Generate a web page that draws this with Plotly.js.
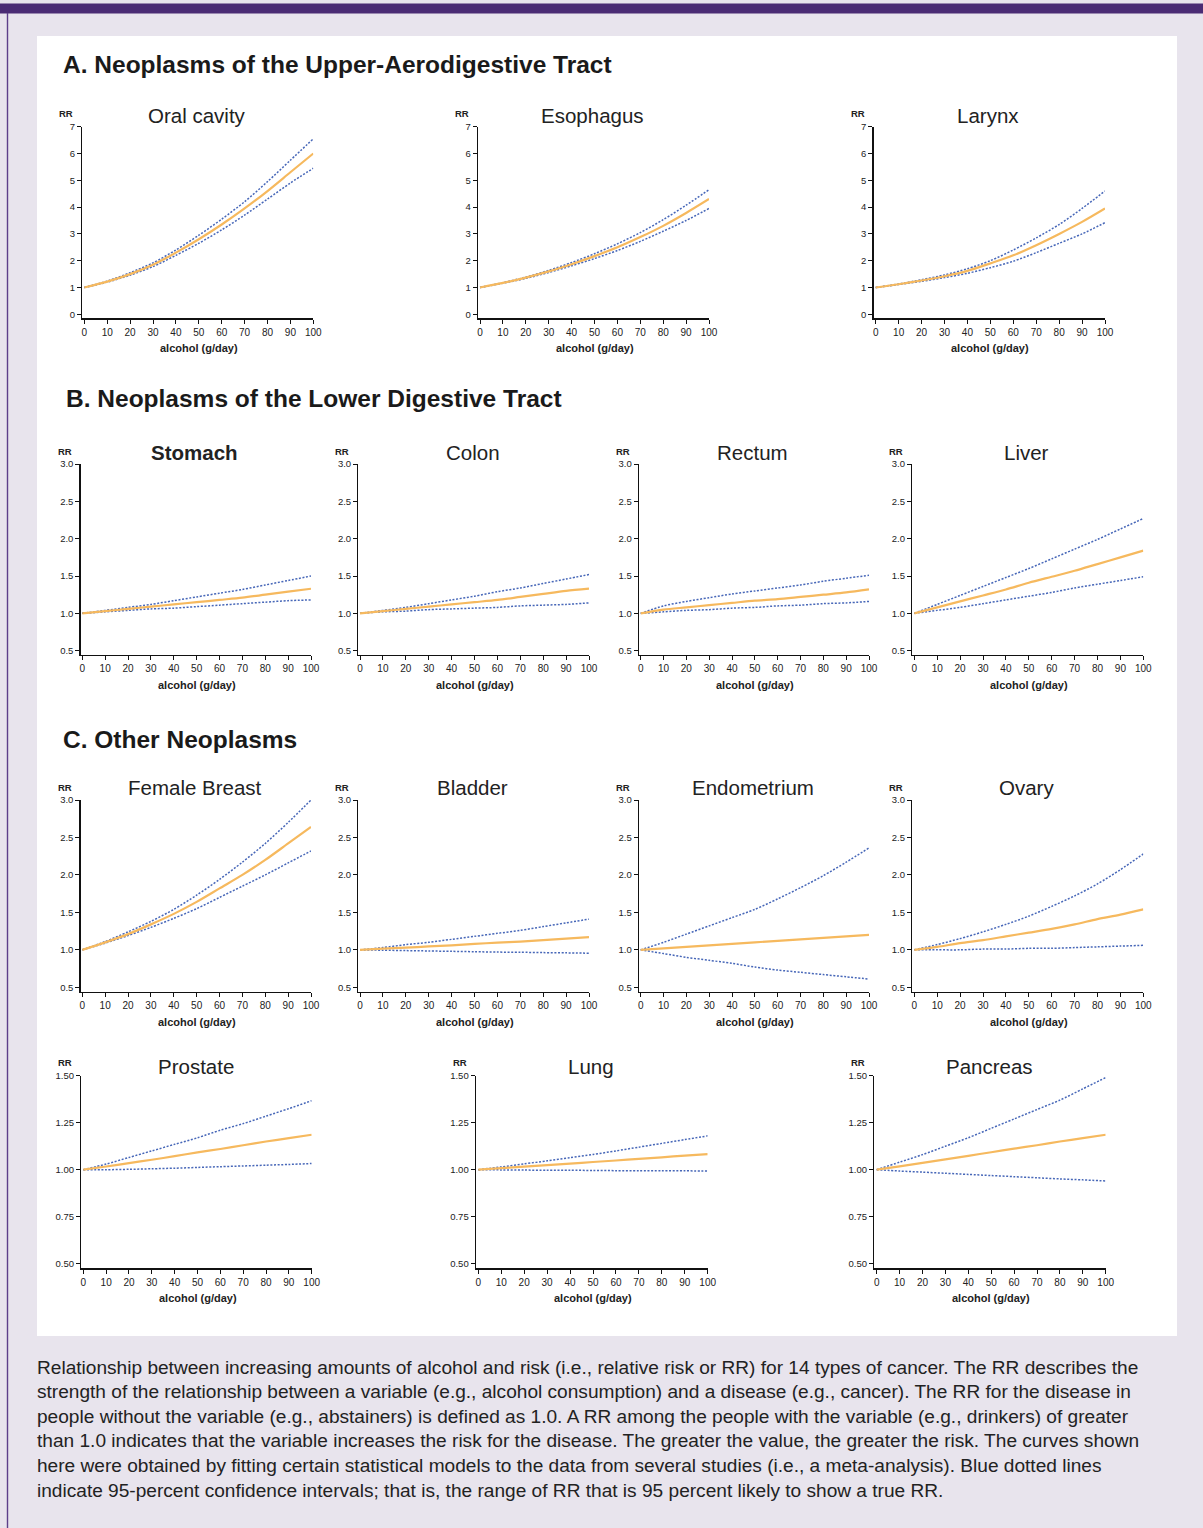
<!DOCTYPE html>
<html><head><meta charset="utf-8">
<script src="https://cdn.plot.ly/plotly-3.0.1.min.js"></script>
<style>html,body{margin:0;padding:0;background:#e8e4ed;overflow:hidden}#chart{width:1203px;height:1528px;}</style>
</head><body><div id="chart"></div>
<script>
// ---------- DATA ----------
const alcohol = [0,10,20,30,40,50,60,70,80,90,100];
const xTickVals = [0,10,20,30,40,50,60,70,80,90,100];
const yTicksA = [0,1,2,3,4,5,6,7];
const yTicksB = [0.5,1.0,1.5,2.0,2.5,3.0];
const yTicksC2 = [0.50,0.75,1.00,1.25,1.50];

const sectionTitles = ["A. Neoplasms of the Upper-Aerodigestive Tract","B. Neoplasms of the Lower Digestive Tract","C. Other Neoplasms"];
const panelNames = ["Oral cavity","Esophagus","Larynx","Stomach","Colon","Rectum","Liver","Female Breast","Bladder","Endometrium","Ovary","Prostate","Lung","Pancreas"];
const xAxisLabel = "alcohol (g/day)";
const yAxisLabel = "RR";

const oralRR    = [1,1.22,1.50,1.85,2.30,2.80,3.35,3.95,4.60,5.30,6.00];
const oralUpper = [1,1.24,1.55,1.92,2.40,2.95,3.55,4.20,4.95,5.75,6.55];
const oralLower = [1,1.20,1.46,1.78,2.20,2.65,3.15,3.70,4.30,4.90,5.45];

const esoRR    = [1,1.17,1.37,1.60,1.87,2.17,2.50,2.88,3.30,3.78,4.30];
const esoUpper = [1,1.18,1.39,1.64,1.93,2.26,2.63,3.05,3.53,4.07,4.65];
const esoLower = [1,1.16,1.34,1.56,1.81,2.08,2.38,2.72,3.10,3.50,3.95];

const larynxRR    = [1,1.12,1.26,1.42,1.62,1.90,2.20,2.58,3.00,3.45,3.95];
const larynxUpper = [1,1.13,1.29,1.47,1.70,2.00,2.40,2.85,3.35,3.95,4.60];
const larynxLower = [1,1.11,1.23,1.37,1.53,1.74,1.98,2.30,2.65,3.00,3.42];

const stomachRR    = [1,1.03,1.06,1.09,1.12,1.15,1.18,1.21,1.25,1.29,1.33];
const stomachUpper = [1,1.04,1.08,1.12,1.17,1.22,1.27,1.32,1.38,1.44,1.50];
const stomachLower = [1,1.02,1.04,1.06,1.07,1.09,1.11,1.13,1.15,1.17,1.18];

const colonRR    = [1,1.03,1.06,1.09,1.12,1.15,1.18,1.22,1.26,1.30,1.33];
const colonUpper = [1,1.04,1.08,1.13,1.18,1.23,1.29,1.34,1.40,1.46,1.52];
const colonLower = [1,1.02,1.03,1.05,1.06,1.07,1.08,1.10,1.11,1.12,1.14];

const rectumRR    = [1,1.05,1.08,1.11,1.14,1.17,1.19,1.22,1.25,1.28,1.32];
const rectumUpper = [1,1.10,1.16,1.21,1.26,1.30,1.34,1.38,1.43,1.47,1.51];
const rectumLower = [1,1.02,1.04,1.05,1.07,1.08,1.10,1.11,1.13,1.14,1.16];

const liverRR    = [1,1.08,1.16,1.24,1.32,1.41,1.49,1.57,1.66,1.75,1.84];
const liverUpper = [1,1.12,1.24,1.36,1.48,1.60,1.73,1.86,1.99,2.13,2.27];
const liverLower = [1,1.04,1.08,1.13,1.18,1.23,1.28,1.34,1.39,1.44,1.49];

const breastRR    = [1,1.10,1.21,1.34,1.48,1.64,1.82,2.00,2.20,2.42,2.64];
const breastUpper = [1,1.11,1.24,1.38,1.54,1.73,1.94,2.17,2.42,2.70,3.00];
const breastLower = [1,1.09,1.19,1.30,1.42,1.55,1.70,1.85,2.00,2.16,2.32];

const bladderRR    = [1,1.015,1.03,1.045,1.06,1.08,1.095,1.11,1.13,1.15,1.17];
const bladderUpper = [1,1.03,1.07,1.10,1.14,1.18,1.22,1.26,1.31,1.36,1.41];
const bladderLower = [1,0.995,0.99,0.985,0.98,0.975,0.97,0.968,0.963,0.96,0.955];

const endoRR    = [1,1.02,1.04,1.06,1.08,1.10,1.12,1.14,1.16,1.18,1.20];
const endoUpper = [1,1.10,1.21,1.32,1.43,1.54,1.68,1.83,1.99,2.17,2.36];
const endoLower = [1,0.95,0.90,0.86,0.82,0.77,0.73,0.70,0.67,0.64,0.61];

const ovaryRR    = [1,1.04,1.09,1.13,1.18,1.23,1.28,1.34,1.41,1.47,1.54];
const ovaryUpper = [1,1.07,1.15,1.24,1.34,1.45,1.58,1.72,1.88,2.07,2.28];
const ovaryLower = [1,1.00,1.00,1.01,1.01,1.02,1.02,1.03,1.04,1.05,1.06];

const prostateRR    = [1,1.017,1.035,1.053,1.072,1.092,1.11,1.13,1.15,1.168,1.186];
const prostateUpper = [1,1.03,1.065,1.10,1.135,1.17,1.21,1.245,1.285,1.325,1.367];
const prostateLower = [1,1.0,1.002,1.005,1.008,1.012,1.016,1.02,1.024,1.028,1.033];

const lungRR    = [1,1.008,1.016,1.024,1.032,1.041,1.049,1.058,1.066,1.075,1.083];
const lungUpper = [1,1.015,1.031,1.047,1.064,1.081,1.10,1.12,1.14,1.16,1.18];
const lungLower = [1,0.999,0.998,0.997,0.997,0.996,0.995,0.995,0.994,0.994,0.993];

const pancreasRR    = [1,1.018,1.036,1.055,1.074,1.093,1.112,1.13,1.15,1.168,1.186];
const pancreasUpper = [1,1.04,1.08,1.125,1.17,1.22,1.27,1.32,1.37,1.43,1.49];
const pancreasLower = [1,0.993,0.987,0.981,0.975,0.969,0.963,0.957,0.951,0.946,0.94];

const captionLines = [
"Relationship between increasing amounts of alcohol and risk (i.e., relative risk or RR) for 14 types of cancer. The RR describes the",
"strength of the relationship between a variable (e.g., alcohol consumption) and a disease (e.g., cancer). The RR for the disease in",
"people without the variable (e.g., abstainers) is defined as 1.0. A RR among the people with the variable (e.g., drinkers) of greater",
"than 1.0 indicates that the variable increases the risk for the disease. The greater the value, the greater the risk. The curves shown",
"here were obtained by fitting certain statistical models to the data from several studies (i.e., a meta-analysis). Blue dotted lines",
"indicate 95-percent confidence intervals; that is, the range of RR that is 95 percent likely to show a true RR."
];

const seriesMid = [oralRR,esoRR,larynxRR,stomachRR,colonRR,rectumRR,liverRR,breastRR,bladderRR,endoRR,ovaryRR,prostateRR,lungRR,pancreasRR];
const seriesUp  = [oralUpper,esoUpper,larynxUpper,stomachUpper,colonUpper,rectumUpper,liverUpper,breastUpper,bladderUpper,endoUpper,ovaryUpper,prostateUpper,lungUpper,pancreasUpper];
const seriesLo  = [oralLower,esoLower,larynxLower,stomachLower,colonLower,rectumLower,liverLower,breastLower,bladderLower,endoLower,ovaryLower,prostateLower,lungLower,pancreasLower];

// ---------- GEOMETRY (pixels) ----------
const W = 1203, H = 1528;
const px = v => v / W;
const py = v => 1 - v / H;
const FONT = "Liberation Sans, Arial, sans-serif";

const rows = [
  {ticks:yTicksA, fmt:'d',  top:126.7, minPx:314.3, axis:318.3, titleY:115},
  {ticks:yTicksB, fmt:'.1f',top:464,   minPx:650.7, axis:655,   titleY:453},
  {ticks:yTicksB, fmt:'.1f',top:800,   minPx:987.3, axis:991.7, titleY:788},
  {ticks:yTicksC2,fmt:'.2f',top:1075.7,minPx:1263.7,axis:1268.3,titleY:1066.5}
];
const colsA = [[82.3,84.3,313.3],[478,480,709],[873.7,875.7,1105]];
const colsB = [[80.7,82.3,311],[358.4,360,589],[639,640.7,869],[912.3,914.3,1143.3]];
const colsC2 = [[81.3,83.3,311.7],[476,478.3,707.7],[874.3,876.7,1105.7]];
const panelRow = [0,0,0,1,1,1,1,2,2,2,2,3,3,3];
const panelCol = [colsA[0],colsA[1],colsA[2],colsB[0],colsB[1],colsB[2],colsB[3],colsB[0],colsB[1],colsB[2],colsB[3],colsC2[0],colsC2[1],colsC2[2]];

const traces = [];
const layout = {
  width: W, height: H,
  margin: {l:0,r:0,t:0,b:0},
  paper_bgcolor: '#e8e4ed',
  plot_bgcolor: 'rgba(0,0,0,0)',
  showlegend: false,
  font: {family: FONT, color:'#222'},
  shapes: [
    {type:'rect', xref:'paper', yref:'paper', x0:px(37), x1:px(1177), y0:py(1336), y1:py(36), fillcolor:'#ffffff', line:{width:0}, layer:'below'},
    {type:'rect', xref:'paper', yref:'paper', x0:0, x1:1, y0:py(13.5), y1:py(3.5), fillcolor:'#4a2b74', line:{width:0}, layer:'below'},
    {type:'rect', xref:'paper', yref:'paper', x0:px(6.8), x1:px(8.2), y0:0, y1:py(13), fillcolor:'#5d3f8a', line:{width:0}, layer:'below'}
  ],
  annotations: []
};

const secPos = [[63,64],[66,398],[63,739]];
sectionTitles.forEach((t,i)=>{
  layout.annotations.push({text:'<b>'+t+'</b>', xref:'paper', yref:'paper', x:px(secPos[i][0]-2), y:py(secPos[i][1]), xanchor:'left', yanchor:'middle', showarrow:false, font:{size:24.5, color:'#1a1a1a', family:FONT}});
});

panelNames.forEach((name,i)=>{
  const r = rows[panelRow[i]];
  const [axLine,x0,x100] = panelCol[i];
  const xppu = (x100 - x0)/100;
  const xmin = -(x0 - axLine)/xppu;
  const tmin = r.ticks[0], tmax = r.ticks[r.ticks.length-1];
  const yppu = (r.minPx - r.top)/(tmax - tmin);
  const ymin = tmin - (r.axis - r.minPx)/yppu;
  const n = i===0 ? '' : String(i+1);
  const xa = 'x'+n, ya = 'y'+n;
  layout['xaxis'+n] = {
    domain:[px(axLine), px(x100)], range:[xmin,100], anchor:ya,
    showline:true, linecolor:'#111', linewidth:1.4, ticks:'outside', ticklen:4, tickwidth:1, tickcolor:'#111',
    tickvals:xTickVals, showgrid:false, zeroline:false, fixedrange:true,
    tickfont:{size:10, color:'#222', family:FONT}
  };
  layout['yaxis'+n] = {
    domain:[py(r.axis), py(r.top)], range:[ymin,tmax], anchor:xa,
    showline:true, linecolor:'#111', linewidth:1.4, ticks:'outside', ticklen:4, tickwidth:1, tickcolor:'#111',
    tickvals:r.ticks, tickformat:r.fmt, showgrid:false, zeroline:false, fixedrange:true,
    tickfont:{size:9.5, color:'#222', family:FONT}
  };
  const dotted = {color:'#4767b8', width:1.5, dash:'2px,1.6px', shape:'spline', smoothing:0.8};
  traces.push({x:alcohol, y:seriesUp[i], xaxis:xa, yaxis:ya, mode:'lines', line:dotted, hoverinfo:'skip', cliponaxis:false});
  traces.push({x:alcohol, y:seriesLo[i], xaxis:xa, yaxis:ya, mode:'lines', line:dotted, hoverinfo:'skip', cliponaxis:false});
  traces.push({x:alcohol, y:seriesMid[i], xaxis:xa, yaxis:ya, mode:'lines', line:{color:'#f6b95e', width:2.2, shape:'spline', smoothing:0.8}, hoverinfo:'skip', cliponaxis:false});

  const cx = (x0 + x100)/2;
  layout.annotations.push({text: name==='Stomach' ? '<b>'+name+'</b>' : name, xref:'paper', yref:'paper', x:px(cx-2), y:py(r.titleY), xanchor:'center', yanchor:'middle', showarrow:false, font:{size:20.5, color:'#222', family:FONT}});
  layout.annotations.push({text:'<b>'+yAxisLabel+'</b>', xref:'paper', yref:'paper', x:px(axLine-16), y:py(r.top-13), xanchor:'center', yanchor:'middle', showarrow:false, font:{size:9.5, color:'#222', family:FONT}});
  layout.annotations.push({text:'<b>'+xAxisLabel+'</b>', xref:'paper', yref:'paper', x:px(cx), y:py(r.axis+30), xanchor:'center', yanchor:'middle', showarrow:false, font:{size:11, color:'#222', family:FONT}});
});

const capY = [1367,1391.6,1416.2,1440.8,1465.4,1490];
captionLines.forEach((t,i)=>{
  layout.annotations.push({text:t, xref:'paper', yref:'paper', x:px(35), y:py(capY[i]), xanchor:'left', yanchor:'middle', showarrow:false, font:{size:19.1, color:'#222', family:FONT}});
});

Plotly.newPlot('chart', traces, layout, {staticPlot:true, displayModeBar:false});
</script></body></html>
